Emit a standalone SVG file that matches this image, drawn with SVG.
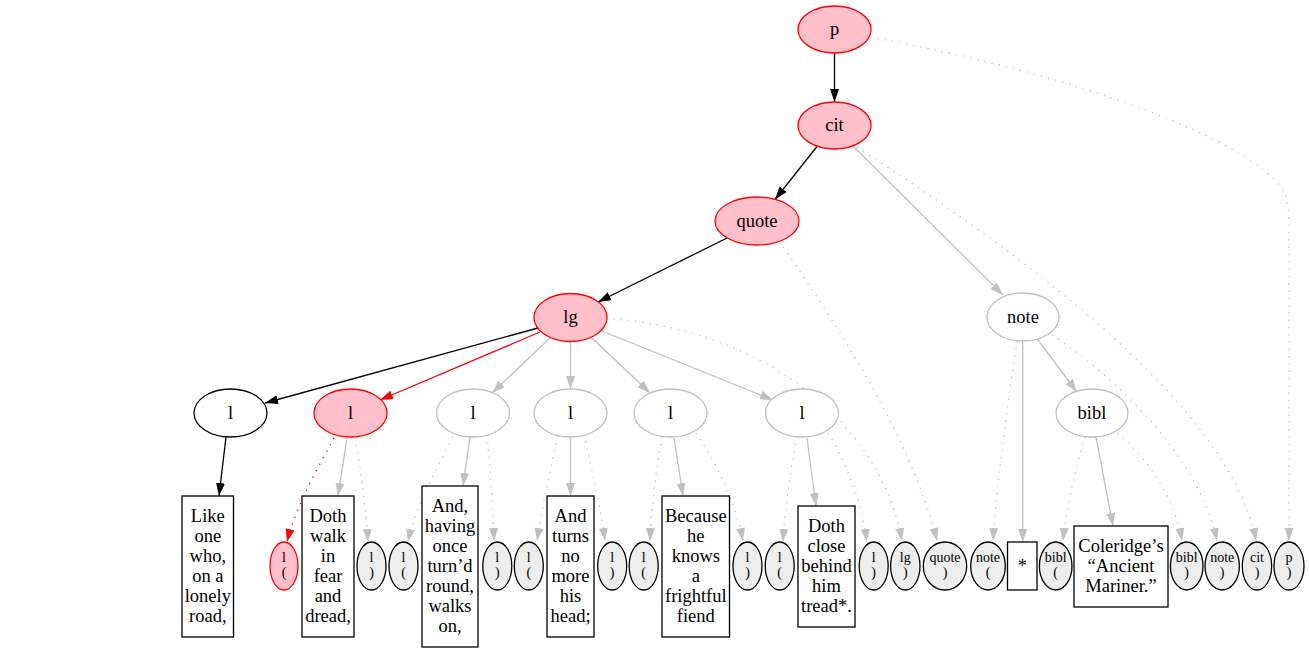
<svg xmlns="http://www.w3.org/2000/svg" width="1309" height="653" viewBox="0 0 1309 653">
<style>
text{font-family:"Liberation Serif","Times New Roman",Times,serif;fill:#000;text-anchor:middle}
.lab{font-size:18.5px}
.sm{font-size:14px}
.hl{fill:#ffc0cb;stroke:#ff0000;stroke-width:1.3}
.wn{fill:#ffffff;stroke:#000000;stroke-width:1.3}
.gn{fill:#ffffff;stroke:#c0c0c0;stroke-width:1.3}
.sn{fill:#ededed;stroke:#000000;stroke-width:1.3}
.shl{fill:#ffc0cb;stroke:#ff0000;stroke-width:1.3}
.box{fill:#ffffff;stroke:#000000;stroke-width:1.3}
.e{fill:none;stroke-width:1.3}
.eb{stroke:#000000;marker-end:url(#ab)}
.er{stroke:#ff0000;marker-end:url(#ar)}
.eg{stroke:#c0c0c0;marker-end:url(#ag)}
.dot{stroke-dasharray:1.3,6}
</style>
<defs>
<marker id="ab" viewBox="0 0 13 10" refX="13" refY="5" markerWidth="13" markerHeight="10" markerUnits="userSpaceOnUse" orient="auto"><path d="M0,0.5 L13,5 L0,9.5 z" fill="#000000"/></marker>
<marker id="ar" viewBox="0 0 13 10" refX="13" refY="5" markerWidth="13" markerHeight="10" markerUnits="userSpaceOnUse" orient="auto"><path d="M0,0.5 L13,5 L0,9.5 z" fill="#ff0000"/></marker>
<marker id="ag" viewBox="0 0 13 10" refX="13" refY="5" markerWidth="13" markerHeight="10" markerUnits="userSpaceOnUse" orient="auto"><path d="M0,0.5 L13,5 L0,9.5 z" fill="#c0c0c0"/></marker>
</defs>
<rect width="1309" height="653" fill="#ffffff"/>
<g id="edges">
<path class="e eb" d="M834.5,53 L834.5,102"/>
<path class="e eb" d="M817,146.5 L775,199.5"/>
<path class="e eb" d="M727,238 L598,302"/>
<path class="e eb" d="M538,328 L265,403"/>
<path class="e er" d="M540,332 L380,400"/>
<path class="e eg" d="M550,338 L492,393"/>
<path class="e eg" d="M570.5,342 L570.5,389"/>
<path class="e eg" d="M592,338 L650,393"/>
<path class="e eg" d="M602,331 L773,400"/>
<path class="e eg" d="M853,146 L1003,295"/>
<path class="e eg" d="M1038,340 L1077,392"/>
<path class="e eg" d="M1022.7,341 L1022.7,542"/>
<path class="e eg" d="M1096,437 L1113,526"/>
<path class="e eb" d="M226,437 L219,496"/>
<path class="e eg" d="M347,438 L338,496"/>
<path class="e eg" d="M470,437 L463,486"/>
<path class="e eg" d="M570.5,437 L570.5,496"/>
<path class="e eg" d="M674,438 L683,496"/>
<path class="e eg" d="M807,438 L816,506"/>
<path class="e er dot" d="M334,438 C318,468 296,505 287,542"/>
<path class="e eg dot" d="M355,438 C361,470 366,510 368,542"/>
<path class="e eg dot" d="M453,437 C436,470 416,505 408,542"/>
<path class="e eg dot" d="M487,435 C490,470 493,510 494,541"/>
<path class="e eg dot" d="M558,436 C550,470 542,510 537,541"/>
<path class="e eg dot" d="M584,434 C592,470 601,510 605,541"/>
<path class="e eg dot" d="M662,437 C656,470 651,510 650,541"/>
<path class="e eg dot" d="M696,433 C718,465 736,505 743,541"/>
<path class="e eg dot" d="M797,437 C790,470 785,510 783,542"/>
<path class="e eg dot" d="M828,433 C848,465 862,505 867,542"/>
<path class="e eg dot" d="M613,319 C760,330 880,420 902,541"/>
<path class="e eg dot" d="M779,241 C820,300 910,430 937,541"/>
<path class="e eg dot" d="M1017,341 C1008,400 997,480 993,541"/>
<path class="e eg dot" d="M1085,437 C1075,470 1066,510 1063,541"/>
<path class="e eg dot" d="M1117,433 C1150,460 1175,500 1182,541"/>
<path class="e eg dot" d="M1052,335 C1120,380 1200,460 1217,541"/>
<path class="e eg dot" d="M857,147 C1000,240 1230,400 1256,541"/>
<path class="e eg dot" d="M870,37 C1080,75 1250,140 1283,190 C1289,200 1289,215 1289,230 L1289,541"/>
</g>
<g id="node-p"><ellipse class="hl" cx="834.5" cy="29.5" rx="36.5" ry="23.5"/><text class="lab" x="834.5" y="35">p</text></g>
<g id="node-cit"><ellipse class="hl" cx="834.5" cy="125.5" rx="36.5" ry="23.5"/><text class="lab" x="834.5" y="131">cit</text></g>
<g id="node-quote"><ellipse class="hl" cx="757" cy="221" rx="42" ry="24"/><text class="lab" x="757" y="226.5">quote</text></g>
<g id="node-lg"><ellipse class="hl" cx="570.5" cy="317.5" rx="36.5" ry="24"/><text class="lab" x="570.5" y="323">lg</text></g>
<g id="node-note"><ellipse class="gn" cx="1023" cy="317" rx="36" ry="24"/><text class="lab" x="1023" y="322.5">note</text></g>
<g id="node-l1"><ellipse class="wn" cx="230.5" cy="413" rx="36.5" ry="24"/><text class="lab" x="230.5" y="418.5">l</text></g>
<g id="node-l2"><ellipse class="hl" cx="350.5" cy="413" rx="36.5" ry="24"/><text class="lab" x="350.5" y="418.5">l</text></g>
<g id="node-l3"><ellipse class="gn" cx="473" cy="413" rx="36.5" ry="24"/><text class="lab" x="473" y="418.5">l</text></g>
<g id="node-l4"><ellipse class="gn" cx="570.5" cy="413" rx="36.5" ry="24"/><text class="lab" x="570.5" y="418.5">l</text></g>
<g id="node-l5"><ellipse class="gn" cx="670.5" cy="413" rx="36.5" ry="24"/><text class="lab" x="670.5" y="418.5">l</text></g>
<g id="node-l6"><ellipse class="gn" cx="802" cy="413" rx="36.5" ry="24"/><text class="lab" x="802" y="418.5">l</text></g>
<g id="node-bibl"><ellipse class="gn" cx="1092" cy="413" rx="36" ry="24"/><text class="lab" x="1092" y="418.5">bibl</text></g>
<g id="t1"><rect class="box" x="182" y="496" width="51.5" height="141"/><text class="lab" x="207.8"><tspan x="207.8" y="521.7">Like</tspan><tspan x="207.8" y="541.7">one</tspan><tspan x="207.8" y="561.7">who,</tspan><tspan x="207.8" y="581.7">on a</tspan><tspan x="207.8" y="601.7">lonely</tspan><tspan x="207.8" y="621.7">road,</tspan></text></g>
<g id="t2"><rect class="box" x="302" y="496" width="52" height="141"/><text class="lab" x="328"><tspan x="328" y="521.7">Doth</tspan><tspan x="328" y="541.7">walk</tspan><tspan x="328" y="561.7">in</tspan><tspan x="328" y="581.7">fear</tspan><tspan x="328" y="601.7">and</tspan><tspan x="328" y="621.7">dread,</tspan></text></g>
<g id="t3"><rect class="box" x="422" y="486" width="56" height="161"/><text class="lab" x="450"><tspan x="450" y="511.7">And,</tspan><tspan x="450" y="531.7">having</tspan><tspan x="450" y="551.7">once</tspan><tspan x="450" y="571.7">turn’d</tspan><tspan x="450" y="591.7">round,</tspan><tspan x="450" y="611.7">walks</tspan><tspan x="450" y="631.7">on,</tspan></text></g>
<g id="t4"><rect class="box" x="547" y="496" width="47" height="141"/><text class="lab" x="570.5"><tspan x="570.5" y="521.7">And</tspan><tspan x="570.5" y="541.7">turns</tspan><tspan x="570.5" y="561.7">no</tspan><tspan x="570.5" y="581.7">more</tspan><tspan x="570.5" y="601.7">his</tspan><tspan x="570.5" y="621.7">head;</tspan></text></g>
<g id="t5"><rect class="box" x="662" y="496" width="67.5" height="141"/><text class="lab" x="695.8"><tspan x="695.8" y="521.7">Because</tspan><tspan x="695.8" y="541.7">he</tspan><tspan x="695.8" y="561.7">knows</tspan><tspan x="695.8" y="581.7">a</tspan><tspan x="695.8" y="601.7">frightful</tspan><tspan x="695.8" y="621.7">fiend</tspan></text></g>
<g id="t6"><rect class="box" x="798" y="506" width="57" height="121"/><text class="lab" x="826.5"><tspan x="826.5" y="531.7">Doth</tspan><tspan x="826.5" y="551.7">close</tspan><tspan x="826.5" y="571.7">behind</tspan><tspan x="826.5" y="591.7">him</tspan><tspan x="826.5" y="611.7">tread*.</tspan></text></g>
<g id="t7"><rect class="box" x="1007.5" y="542" width="29.5" height="48"/><text class="lab" x="1022.3" y="572">*</text></g>
<g id="t8"><rect class="box" x="1074" y="526" width="94" height="81"/><text class="lab" x="1121"><tspan x="1121" y="551.7">Coleridge’s</tspan><tspan x="1121" y="571.7">“Ancient</tspan><tspan x="1121" y="591.7">Mariner.”</tspan></text></g>
<g id="s1"><ellipse class="shl" cx="284" cy="566" rx="14" ry="24"/><text class="sm"><tspan x="284" y="562">l</tspan><tspan x="284" y="577">(</tspan></text></g>
<g id="s2"><ellipse class="sn" cx="371.5" cy="566" rx="14.5" ry="24"/><text class="sm"><tspan x="371.5" y="562">l</tspan><tspan x="371.5" y="577">)</tspan></text></g>
<g id="s3"><ellipse class="sn" cx="403.5" cy="566" rx="14.5" ry="24"/><text class="sm"><tspan x="403.5" y="562">l</tspan><tspan x="403.5" y="577">(</tspan></text></g>
<g id="s4"><ellipse class="sn" cx="497.3" cy="566" rx="14.5" ry="24"/><text class="sm"><tspan x="497.3" y="562">l</tspan><tspan x="497.3" y="577">)</tspan></text></g>
<g id="s5"><ellipse class="sn" cx="528.8" cy="566" rx="14.5" ry="24"/><text class="sm"><tspan x="528.8" y="562">l</tspan><tspan x="528.8" y="577">(</tspan></text></g>
<g id="s6"><ellipse class="sn" cx="612.2" cy="566" rx="14.5" ry="24"/><text class="sm"><tspan x="612.2" y="562">l</tspan><tspan x="612.2" y="577">)</tspan></text></g>
<g id="s7"><ellipse class="sn" cx="643.7" cy="566" rx="14.5" ry="24"/><text class="sm"><tspan x="643.7" y="562">l</tspan><tspan x="643.7" y="577">(</tspan></text></g>
<g id="s8"><ellipse class="sn" cx="747.5" cy="566" rx="14.5" ry="24"/><text class="sm"><tspan x="747.5" y="562">l</tspan><tspan x="747.5" y="577">)</tspan></text></g>
<g id="s9"><ellipse class="sn" cx="779.7" cy="566" rx="14.5" ry="24"/><text class="sm"><tspan x="779.7" y="562">l</tspan><tspan x="779.7" y="577">(</tspan></text></g>
<g id="s10"><ellipse class="sn" cx="873.7" cy="566" rx="14.5" ry="24"/><text class="sm"><tspan x="873.7" y="562">l</tspan><tspan x="873.7" y="577">)</tspan></text></g>
<g id="s11"><ellipse class="sn" cx="905.3" cy="566" rx="14.7" ry="24"/><text class="sm"><tspan x="905.3" y="562">lg</tspan><tspan x="905.3" y="577">)</tspan></text></g>
<g id="s12"><ellipse class="sn" cx="945" cy="566" rx="21.7" ry="24"/><text class="sm"><tspan x="945" y="562">quote</tspan><tspan x="945" y="577">)</tspan></text></g>
<g id="s13"><ellipse class="sn" cx="988" cy="566" rx="17.3" ry="24"/><text class="sm"><tspan x="988" y="562">note</tspan><tspan x="988" y="577">(</tspan></text></g>
<g id="s14"><ellipse class="sn" cx="1055.7" cy="566" rx="16.3" ry="24"/><text class="sm"><tspan x="1055.7" y="562">bibl</tspan><tspan x="1055.7" y="577">(</tspan></text></g>
<g id="s15"><ellipse class="sn" cx="1186.7" cy="566" rx="16.3" ry="24"/><text class="sm"><tspan x="1186.7" y="562">bibl</tspan><tspan x="1186.7" y="577">)</tspan></text></g>
<g id="s16"><ellipse class="sn" cx="1222.2" cy="566" rx="17.2" ry="24"/><text class="sm"><tspan x="1222.2" y="562">note</tspan><tspan x="1222.2" y="577">)</tspan></text></g>
<g id="s17"><ellipse class="sn" cx="1257" cy="566" rx="14.7" ry="24"/><text class="sm"><tspan x="1257" y="562">cit</tspan><tspan x="1257" y="577">)</tspan></text></g>
<g id="s18"><ellipse class="sn" cx="1289" cy="566" rx="15" ry="24"/><text class="sm"><tspan x="1289" y="562">p</tspan><tspan x="1289" y="577">)</tspan></text></g>
</svg>
